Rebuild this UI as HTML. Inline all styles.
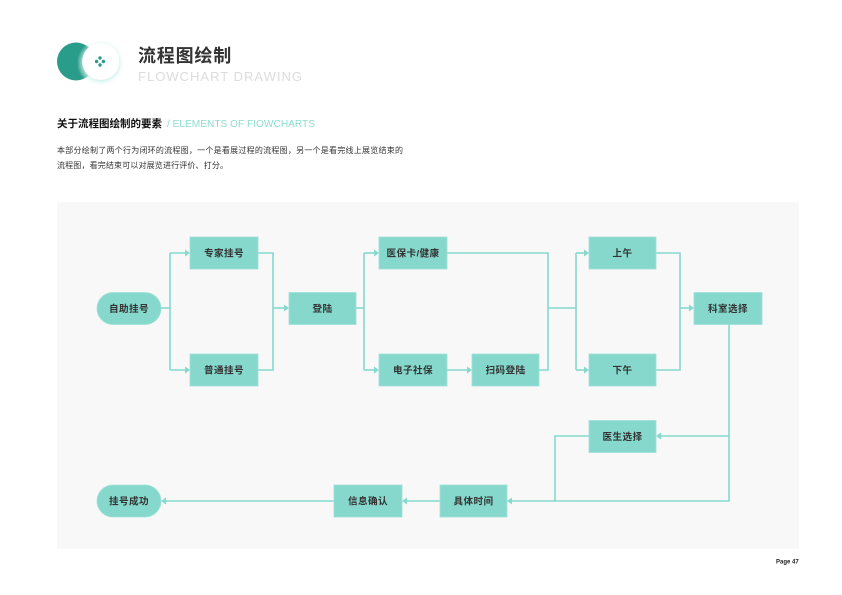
<!DOCTYPE html>
<html>
<head>
<meta charset="utf-8">
<style>
  html,body{margin:0;padding:0;background:#fff;}
  body{width:842px;height:595px;overflow:hidden;position:relative;font-family:"Liberation Sans","Noto Sans CJK SC",sans-serif;}
  svg{position:absolute;left:0;top:0;}
  .t{font-family:"Liberation Sans","Noto Sans CJK SC",sans-serif;}
</style>
</head>
<body>
<svg width="842" height="595" viewBox="0 0 842 595" xmlns="http://www.w3.org/2000/svg">
  <defs>
    <radialGradient id="glow" cx="50%" cy="50%" r="50%">
      <stop offset="70%" stop-color="#c8efe8" stop-opacity="0.9"/>
      <stop offset="100%" stop-color="#ffffff" stop-opacity="0"/>
    </radialGradient>
  </defs>

  <!-- Logo -->
  <circle cx="76" cy="61.5" r="19" fill="#2a9d8a"/>
  <circle cx="101" cy="63" r="24" fill="url(#glow)"/>
  <circle cx="100.7" cy="61.5" r="18.5" fill="#ffffff"/>
  <g fill="#2a9d8a">
    <circle cx="100" cy="58" r="1.7"/>
    <circle cx="100" cy="65" r="1.7"/>
    <circle cx="96.6" cy="61.5" r="1.7"/>
    <circle cx="103.4" cy="61.5" r="1.7"/>
  </g>

  <!-- Title -->
  <text class="t" x="138" y="62" font-size="18" font-weight="bold" fill="#333" letter-spacing="0.8">流程图绘制</text>
  <text class="t" x="138" y="81" font-size="13" fill="#dcdcdc" textLength="164" lengthAdjust="spacing">FLOWCHART DRAWING</text>

  <!-- Section heading -->
  <text class="t" x="57" y="127" font-size="10.5" font-weight="bold" fill="#111">关于流程图绘制的要素</text>
  <text class="t" x="167" y="127" font-size="10" fill="#8cdcd0" textLength="148" lengthAdjust="spacingAndGlyphs">/ ELEMENTS OF FIOWCHARTS</text>

  <text class="t" x="57" y="153" font-size="8" fill="#333" textLength="346" lengthAdjust="spacing">本部分绘制了两个行为闭环的流程图，一个是看展过程的流程图，另一个是看完线上展览结束的</text>
  <text class="t" x="57" y="168" font-size="8" fill="#333" textLength="171" lengthAdjust="spacing">流程图，看完结束可以对展览进行评价、打分。</text>

  <!-- Diagram background -->
  <rect x="57" y="202" width="742" height="347" fill="#f8f8f8"/>

  <!-- Connectors -->
  <g stroke="#86d9cd" stroke-width="1.6" fill="none">
    <polyline points="161,308 170,308"/>
    <polyline points="170,253 170,370"/>
    <polyline points="170,253 187,253"/>
    <polyline points="170,370 187,370"/>
    <polyline points="258,253 273,253 273,370 258,370"/>
    <polyline points="273,308 286,308"/>
    <polyline points="356,308 364,308"/>
    <polyline points="364,253 364,370"/>
    <polyline points="364,253 376,253"/>
    <polyline points="364,370 376,370"/>
    <polyline points="447,253 548,253 548,370 539,370"/>
    <polyline points="447,370 469,370"/>
    <polyline points="548,308 576,308"/>
    <polyline points="576,253 576,370"/>
    <polyline points="576,253 586,253"/>
    <polyline points="576,370 586,370"/>
    <polyline points="656,253 680,253 680,370 656,370"/>
    <polyline points="680,308 691,308"/>
    <polyline points="729,324 729,501 510,501"/>
    <polyline points="729,436 659,436"/>
    <polyline points="589,436 555,436 555,501"/>
    <polyline points="440,501 405,501"/>
    <polyline points="334,501 164,501"/>
  </g>
  <!-- Arrowheads -->
  <g fill="#86d9cd">
    <polygon points="190,253 185,249.5 185,256.5"/>
    <polygon points="190,370 185,366.5 185,373.5"/>
    <polygon points="289,308 284,304.5 284,311.5"/>
    <polygon points="379,253 374,249.5 374,256.5"/>
    <polygon points="379,370 374,366.5 374,373.5"/>
    <polygon points="472,370 467,366.5 467,373.5"/>
    <polygon points="589,253 584,249.5 584,256.5"/>
    <polygon points="589,370 584,366.5 584,373.5"/>
    <polygon points="694,308 689,304.5 689,311.5"/>
    <polygon points="656,436 661,432.5 661,439.5"/>
    <polygon points="507,501 512,497.5 512,504.5"/>
    <polygon points="402,501 407,497.5 407,504.5"/>
    <polygon points="161,501 166,497.5 166,504.5"/>
  </g>

  <!-- Nodes -->
  <g fill="#86d8cc" stroke="#9ee2d7" stroke-width="0.8">
    <rect x="97" y="292.5" width="64" height="32" rx="16"/>
    <rect x="190" y="237" width="68" height="32"/>
    <rect x="190" y="354" width="68" height="32"/>
    <rect x="289" y="292.5" width="67" height="32"/>
    <rect x="379" y="237" width="68" height="32"/>
    <rect x="379" y="354" width="68" height="32"/>
    <rect x="472" y="354" width="67" height="32"/>
    <rect x="589" y="237" width="67" height="32"/>
    <rect x="589" y="354" width="67" height="32"/>
    <rect x="694" y="292.5" width="68" height="32"/>
    <rect x="589" y="420.5" width="67" height="32"/>
    <rect x="440" y="485" width="67" height="32"/>
    <rect x="334" y="485" width="68" height="32"/>
    <rect x="97" y="485" width="64" height="32" rx="16"/>
  </g>

  <g class="t" font-size="9.6" font-weight="bold" fill="#333" text-anchor="middle" letter-spacing="0.4">
    <text x="129" y="312">自助挂号</text>
    <text x="224" y="256.5">专家挂号</text>
    <text x="224" y="373.5">普通挂号</text>
    <text x="322.5" y="312">登陆</text>
    <text x="413" y="256.5">医保卡/健康</text>
    <text x="413" y="373.5">电子社保</text>
    <text x="505.5" y="373.5">扫码登陆</text>
    <text x="622.5" y="256.5">上午</text>
    <text x="622.5" y="373.5">下午</text>
    <text x="728" y="312">科室选择</text>
    <text x="622.5" y="440">医生选择</text>
    <text x="473.5" y="504.5">具体时间</text>
    <text x="368" y="504.5">信息确认</text>
    <text x="129" y="504.5">挂号成功</text>
  </g>

  <!-- Page number -->
  <text class="t" x="776" y="563.5" font-size="6" font-weight="bold" fill="#222">Page 47</text>
</svg>
</body>
</html>
